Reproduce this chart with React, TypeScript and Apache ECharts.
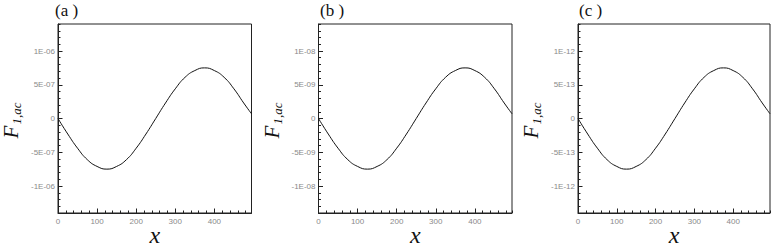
import React, { useEffect, useRef } from 'react';
import * as echarts from 'echarts';

// ---- data ----
const xValues = [0, 25, 50, 75, 100, 125, 150, 175, 200, 225, 250, 275, 300, 325, 350, 375, 400, 425, 450, 475, 495];
const valuesA = [0, -2.3e-7, -4.4e-7, -6.1e-7, -7.1e-7, -7.5e-7, -7.1e-7, -6.1e-7, -4.4e-7, -2.3e-7, 0, 2.3e-7, 4.4e-7, 6.1e-7, 7.1e-7, 7.5e-7, 7.1e-7, 6.1e-7, 4.4e-7, 2.3e-7, 0.7e-7];
const valuesB = [0, -2.3e-9, -4.4e-9, -6.1e-9, -7.1e-9, -7.5e-9, -7.1e-9, -6.1e-9, -4.4e-9, -2.3e-9, 0, 2.3e-9, 4.4e-9, 6.1e-9, 7.1e-9, 7.5e-9, 7.1e-9, 6.1e-9, 4.4e-9, 2.3e-9, 0.7e-9];
const valuesC = [0, -2.3e-13, -4.4e-13, -6.1e-13, -7.1e-13, -7.5e-13, -7.1e-13, -6.1e-13, -4.4e-13, -2.3e-13, 0, 2.3e-13, 4.4e-13, 6.1e-13, 7.1e-13, 7.5e-13, 7.1e-13, 6.1e-13, 4.4e-13, 2.3e-13, 0.7e-13];

const yMajorA = [-1e-6, -5e-7, 0, 5e-7, 1e-6];
const yMajorB = [-1e-8, -5e-9, 0, 5e-9, 1e-8];
const yMajorC = [-1e-12, -5e-13, 0, 5e-13, 1e-12];
const yExtents = [1.4e-6, 1.4e-8, 1.4e-12];
const yMinorSteps = [1e-7, 1e-9, 1e-13];

const xMajor = [0, 100, 200, 300, 400];
const xMin = 0;
const xMax = 495;
const xMinorStep = 20;

const panelLabels = ['(a )', '(b )', '(c )'];
const xTitle = 'x';
const yTitleMain = 'F';
const yTitleSub = '1,ac';

// ---- layout ----
const panels = [
  { left: 58, width: 193.5, labelX: 55 },
  { left: 318.5, width: 193.5, labelX: 320 },
  { left: 578, width: 192, labelX: 579 },
];
const gridTop = 24;
const gridHeight = 189;

const sansFont = '"Liberation Sans", Arial, sans-serif';
const serifFont = '"Liberation Serif", "Times New Roman", serif';
const tickColor = '#222';
const labelColor = '#8a8a8a';

function sci(v: number): string {
  if (Math.abs(v) < 1e-30) return '0';
  const s = v.toExponential(0);
  const m = s.match(/^(-?\d)e([+-])(\d+)$/);
  if (!m) return s;
  return `${m[1]}E${m[2]}${m[3].padStart(2, '0')}`;
}

export default function App() {
  const ref = useRef<HTMLDivElement>(null);

  useEffect(() => {
    if (!ref.current) return;
    const chart = echarts.init(ref.current, undefined, { renderer: 'svg' });
    const seriesValues = [valuesA, valuesB, valuesC];
    const yMajors = [yMajorA, yMajorB, yMajorC];

    const grids: any[] = [];
    const xAxes: any[] = [];
    const yAxes: any[] = [];
    const series: any[] = [];
    const graphics: any[] = [];

    panels.forEach((p, i) => {
      grids.push({
        left: p.left,
        top: gridTop,
        width: p.width,
        height: gridHeight,
        show: true,
        borderColor: tickColor,
        borderWidth: 1,
        containLabel: false,
      });
      // minor x axis
      xAxes.push({
        gridIndex: i,
        type: 'value',
        position: 'bottom',
        min: xMin,
        max: xMax,
        interval: xMinorStep,
        axisLine: { show: true, onZero: false, lineStyle: { color: tickColor, width: 1 } },
        axisTick: { show: true, inside: true, length: 2.5, lineStyle: { color: tickColor } },
        axisLabel: { show: false },
        splitLine: { show: false },
      });
      // major x axis
      xAxes.push({
        gridIndex: i,
        type: 'value',
        position: 'bottom',
        min: xMin,
        max: xMax,
        axisLine: { show: false, onZero: false },
        axisTick: { show: true, inside: true, length: 4.5, customValues: xMajor, lineStyle: { color: tickColor } },
        axisLabel: {
          show: true,
          customValues: xMajor,
          color: labelColor,
          fontSize: 8,
          fontFamily: sansFont,
          margin: 4,
        },
        splitLine: { show: false },
      });
      const ext = yExtents[i];
      yAxes.push({
        gridIndex: i,
        type: 'value',
        position: 'left',
        min: -ext,
        max: ext,
        interval: yMinorSteps[i],
        axisLine: { show: true, onZero: false, lineStyle: { color: tickColor, width: 1 } },
        axisTick: { show: true, inside: true, length: 2.5, lineStyle: { color: tickColor } },
        axisLabel: { show: false },
        splitLine: { show: false },
      });
      yAxes.push({
        gridIndex: i,
        type: 'value',
        position: 'left',
        min: -ext,
        max: ext,
        axisLine: { show: false, onZero: false },
        axisTick: { show: true, inside: true, length: 4.5, customValues: yMajors[i], lineStyle: { color: tickColor } },
        axisLabel: {
          show: true,
          customValues: yMajors[i],
          color: labelColor,
          fontSize: 8,
          fontFamily: sansFont,
          margin: 3,
          formatter: (v: number) => sci(v),
        },
        splitLine: { show: false },
      });
      series.push({
        type: 'line',
        xAxisIndex: 2 * i,
        yAxisIndex: 2 * i,
        data: xValues.map((x, k) => [x, seriesValues[i][k]]),
        showSymbol: false,
        smooth: true,
        lineStyle: { color: '#111', width: 1 },
      });

      // panel label
      graphics.push({
        type: 'text',
        x: p.labelX,
        y: 10.5,
        style: {
          text: panelLabels[i],
          fontSize: 17,
          fontFamily: serifFont,
          fill: '#111',
          align: 'left',
          verticalAlign: 'middle',
        },
      });
      // x title
      graphics.push({
        type: 'text',
        x: p.left + p.width / 2,
        y: 235,
        style: {
          text: xTitle,
          fontSize: 24,
          fontFamily: serifFont,
          fontStyle: 'italic',
          fill: '#111',
          align: 'center',
          verticalAlign: 'middle',
        },
      });
      // y title (rotated)
      graphics.push({
        type: 'group',
        x: p.left - 40,
        y: gridTop + gridHeight / 2,
        rotation: Math.PI / 2,
        children: [
          {
            type: 'text',
            x: -20,
            y: -7,
            style: {
              text: yTitleMain,
              fontSize: 21,
              fontFamily: serifFont,
              fontStyle: 'italic',
              fill: '#111',
              align: 'left',
              verticalAlign: 'middle',
            },
          },
          {
            type: 'text',
            x: -6,
            y: -1.4,
            style: {
              text: yTitleSub,
              fontSize: 13,
              fontFamily: serifFont,
              fontStyle: 'italic',
              fill: '#111',
              align: 'left',
              verticalAlign: 'middle',
            },
          },
        ],
      });
    });

    chart.setOption({
      animation: false,
      backgroundColor: '#fff',
      grid: grids,
      xAxis: xAxes,
      yAxis: yAxes,
      series,
      graphic: graphics,
    });
    return () => chart.dispose();
  }, []);

  return (
    <div
      ref={ref}
      style={{ position: 'fixed', left: 0, top: 0, width: 774, height: 247 }}
    />
  );
}
